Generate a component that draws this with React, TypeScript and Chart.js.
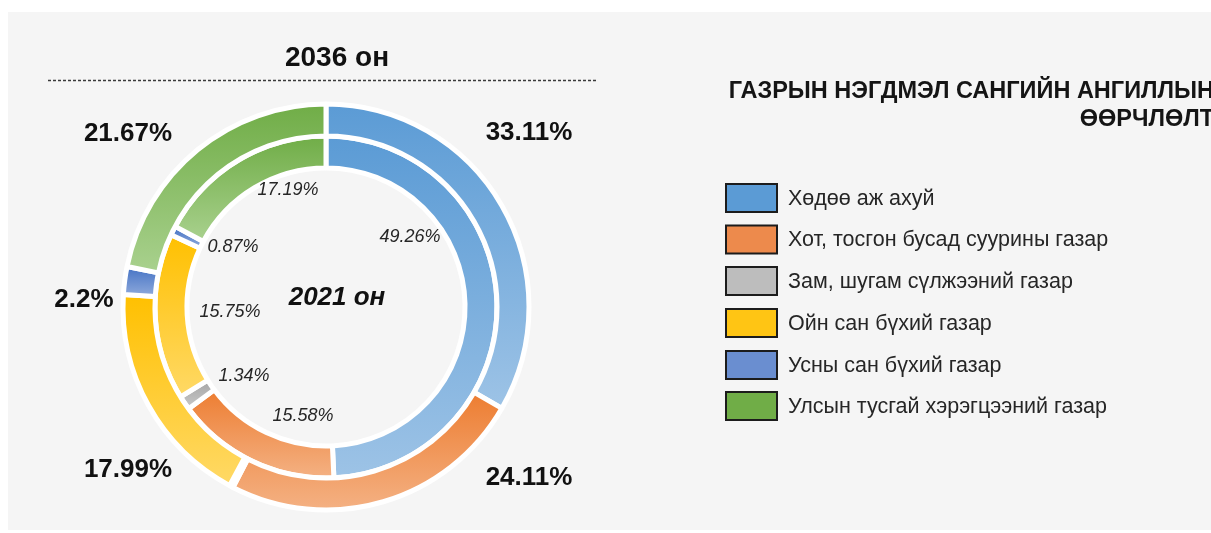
import React, { useEffect, useRef } from "react";
import { Chart, registerables } from "chart.js";

Chart.register(...registerables);

// ---------- data ----------
const categories = [
  "Хөдөө аж ахуй",
  "Хот, тосгон бусад суурины газар",
  "Зам, шугам сүлжээний газар",
  "Ойн сан бүхий газар",
  "Усны сан бүхий газар",
  "Улсын тусгай хэрэгцээний газар",
];
const values2036 = [33.11, 24.11, 0.3, 17.99, 2.2, 21.67];
const values2021 = [49.26, 15.58, 1.34, 15.75, 0.87, 17.19];
const labels2036 = ["33.11%", "24.11%", "", "17.99%", "2.2%", "21.67%"];
const labels2021 = ["49.26%", "15.58%", "1.34%", "15.75%", "0.87%", "17.19%"];
const outerTitle = "2036 он";
const innerTitle = "2021 он";
const sideTitleLines = ["ГАЗРЫН НЭГДМЭЛ САНГИЙН АНГИЛЛЫН", "ӨӨРЧЛӨЛТ"];

// ---------- styles ----------
const BASE_COLORS = ["#5B9BD5", "#ED7D31", "#A5A5A5", "#FFC000", "#4472C4", "#70AD47"];
const LIGHT_COLORS = ["#9DC3E6", "#F4B183", "#C9C9C9", "#FFD966", "#8FAADC", "#A9D18E"];
const LEGEND_COLORS = ["#5B9BD5", "#ED8A4C", "#BDBDBD", "#FFC514", "#6A8ED0", "#70AD47"];
const OUTER_R = 203;
const CUTOUT = 0.685;
// label offsets from chart centre (px)
const OUTER_LABEL_POS = [[203, -174], [203, 171], [0, 0], [-198, 163], [-242, -7], [-198, -173]];
const INNER_LABEL_POS = [[84, -70], [-23, 109], [-82, 69], [-96, 5], [-93, -60], [-38, -117]];

const FONT = '"Liberation Sans", Arial, sans-serif';

function arcFill(ctx: any) {
  const i = ctx.dataIndex;
  const di = ctx.datasetIndex;
  if (i === undefined || di === undefined) return BASE_COLORS[0];
  const chart = ctx.chart;
  const area = chart.chartArea;
  if (!area) return BASE_COLORS[i];
  const data: number[] = chart.data.datasets[di].data as number[];
  const total = data.reduce((a, b) => a + b, 0);
  let before = 0;
  for (let k = 0; k < i; k++) before += data[k];
  const start = -Math.PI / 2 + (before / total) * Math.PI * 2;
  const end = start + (data[i] / total) * Math.PI * 2;
  const cy = (area.top + area.bottom) / 2;
  const n = chart.data.datasets.length;
  const ringW = (OUTER_R - OUTER_R * CUTOUT) / n;
  const rOut = OUTER_R - di * ringW;
  const rIn = rOut - ringW;
  let minY = Infinity, maxY = -Infinity;
  for (let s = 0; s <= 60; s++) {
    const a = start + ((end - start) * s) / 60;
    for (const r of [rOut, rIn]) {
      const y = cy + r * Math.sin(a);
      if (y < minY) minY = y;
      if (y > maxY) maxY = y;
    }
  }
  if (maxY - minY < 1) maxY = minY + 1;
  const g = chart.ctx.createLinearGradient(0, minY, 0, maxY);
  g.addColorStop(0, BASE_COLORS[i]);
  g.addColorStop(1, LIGHT_COLORS[i]);
  return g;
}

const overlayPlugin = {
  id: "overlay",
  beforeDraw(chart: any) {
    const c = chart.ctx;
    c.save();
    c.fillStyle = "#ffffff";
    c.fillRect(0, 0, chart.width, chart.height);
    c.fillStyle = "#f5f5f5";
    c.fillRect(8, 12, chart.width - 8, 518);
    // dashed line
    c.strokeStyle = "#3a3a3a";
    c.lineWidth = 1.5;
    c.setLineDash([3, 2]);
    c.beginPath();
    c.moveTo(48, 80.5);
    c.lineTo(598, 80.5);
    c.stroke();
    c.setLineDash([]);
    // outer title
    c.fillStyle = "#111111";
    c.font = `bold 28px ${FONT}`;
    c.textAlign = "center";
    c.textBaseline = "alphabetic";
    c.fillText(outerTitle, 337, 66);
    // side title
    c.font = `bold 23.5px ${FONT}`;
    c.textAlign = "right";
    c.fillStyle = "#151515";
    c.fillText(sideTitleLines[0], 1214, 98);
    c.fillText(sideTitleLines[1], 1214, 126);
    // legend
    const rowY = [198, 239.5, 281, 323, 365, 406];
    c.textAlign = "left";
    c.textBaseline = "middle";
    c.font = `21.5px ${FONT}`;
    categories.forEach((name, k) => {
      const y = rowY[k];
      c.fillStyle = LEGEND_COLORS[k];
      c.fillRect(726, y - 14, 51, 28);
      c.strokeStyle = "#1c1c1c";
      c.lineWidth = 2;
      c.strokeRect(726, y - 14, 51, 28);
      c.fillStyle = "#262626";
      c.fillText(name, 788, y + 1);
    });
    c.restore();
  },
  afterDatasetsDraw(chart: any) {
    const c = chart.ctx;
    const outerMeta = chart.getDatasetMeta(0);
    const innerMeta = chart.getDatasetMeta(1);
    const cx = outerMeta.data[0].x;
    const cy = outerMeta.data[0].y;
    c.save();
    c.textAlign = "center";
    c.textBaseline = "middle";
    c.fillStyle = "#111111";
    c.font = `bold 26px ${FONT}`;
    labels2036.forEach((t, k) => {
      if (!t || !outerMeta.data[k]) return;
      c.fillText(t, cx + OUTER_LABEL_POS[k][0], cy + OUTER_LABEL_POS[k][1]);
    });
    c.fillStyle = "#262626";
    c.font = `italic 18px ${FONT}`;
    labels2021.forEach((t, k) => {
      if (!t || !innerMeta.data[k]) return;
      c.fillText(t, cx + INNER_LABEL_POS[k][0], cy + INNER_LABEL_POS[k][1]);
    });
    c.fillStyle = "#111111";
    c.font = `italic bold 26px ${FONT}`;
    c.fillText(innerTitle, cx + 11, cy - 9);
    c.restore();
  },
};

export default function App() {
  const ref = useRef<HTMLCanvasElement | null>(null);
  useEffect(() => {
    if (!ref.current) return;
    const chart = new Chart(ref.current, {
      type: "doughnut",
      data: {
        labels: categories,
        datasets: [
          { label: outerTitle, data: values2036, backgroundColor: arcFill as any },
          { label: innerTitle, data: values2021, backgroundColor: arcFill as any },
        ],
      },
      options: {
        animation: false,
        responsive: false,
        events: [],
        radius: OUTER_R,
        cutout: `${CUTOUT * 100}%`,
        rotation: 0,
        layout: { padding: { left: 0, right: 559, top: 81, bottom: 0 } },
        elements: {
          arc: { borderColor: "#ffffff", borderWidth: 5, borderAlign: "center", hoverOffset: 0, offset: 0 } as any,
        },
        plugins: {
          legend: { display: false },
          tooltip: { enabled: false },
          title: { display: false },
        },
      } as any,
      plugins: [overlayPlugin],
    });
    return () => chart.destroy();
  }, []);
  return (
    <div style={{ position: "fixed", left: 0, top: 0, width: 1211, height: 533 }}>
      <canvas ref={ref} width={1211} height={533} style={{ display: "block" }} />
    </div>
  );
}
